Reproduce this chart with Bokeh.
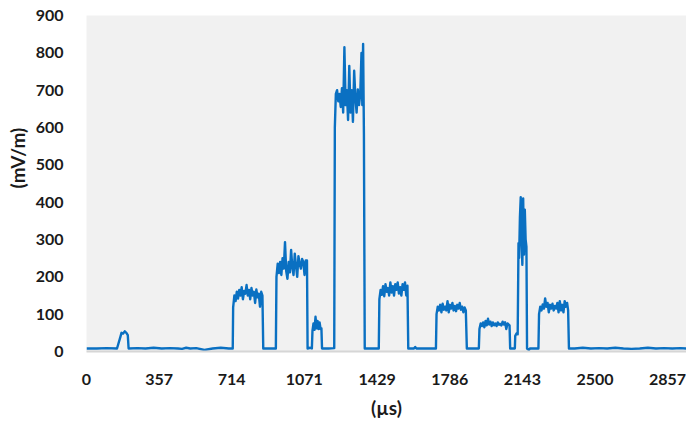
from bokeh.plotting import figure
from bokeh.models import Range1d, FixedTicker
from bokeh.embed import file_html
from bokeh.resources import INLINE

# Time axis (µs) and field strength (mV/m)
time_us = [
    0, 50, 100, 150, 167, 172, 180, 188, 196, 203, 207, 250, 290, 330, 370, 410, 450, 470, 490, 510, 540, 580, 620, 660, 700, 719,
    # pulse 1
    721, 727, 733, 739, 745, 751, 757, 763, 769, 775, 781, 787, 793, 799, 805, 811, 817, 823, 829, 835, 841, 847, 853, 859, 865, 869,
    900, 931,
    # pulse 2
    934, 940, 946, 952, 958, 964, 970, 976, 982, 988, 994, 1000, 1006, 1012, 1018, 1024, 1030, 1036, 1042, 1048, 1054, 1060, 1066, 1072, 1078, 1084, 1087,
    1100, 1108,
    # pulse 3
    1111, 1116, 1121, 1126, 1131, 1136, 1141, 1146, 1151, 1155, 1158,
    1190, 1218,
    # pulse 4 (strong)
    1221, 1226, 1232, 1238, 1244, 1250, 1256, 1262, 1268, 1274, 1280, 1286, 1292, 1298, 1304, 1310, 1316, 1322, 1328, 1334, 1340, 1346, 1352, 1356, 1360, 1364, 1368,
    1400, 1437,
    # pulse 5
    1440, 1446, 1452, 1458, 1464, 1470, 1476, 1482, 1488, 1494, 1500, 1506, 1512, 1518, 1524, 1530, 1536, 1542, 1548, 1554, 1560, 1566, 1572, 1578, 1582,
    1610, 1616, 1622, 1680, 1718,
    # pulse 6
    1721, 1727, 1733, 1739, 1745, 1751, 1757, 1763, 1769, 1775, 1781, 1787, 1793, 1799, 1805, 1811, 1817, 1823, 1829, 1835, 1841, 1847, 1853, 1859, 1865, 1870,
    1900, 1929,
    # pulse 7
    1932, 1938, 1944, 1950, 1956, 1962, 1968, 1974, 1980, 1986, 1992, 1998, 2004, 2010, 2016, 2022, 2028, 2034, 2040, 2046, 2052, 2058, 2064, 2070, 2076, 2080, 2083,
    2095, 2106,
    # step + spike
    2108, 2114, 2120, 2124, 2127, 2131, 2135, 2139, 2143, 2147, 2151, 2155, 2159, 2163, 2166,
    2175, 2180, 2190, 2222,
    # pulse 9
    2225, 2231, 2237, 2243, 2249, 2255, 2261, 2267, 2273, 2279, 2285, 2291, 2297, 2303, 2309, 2315, 2321, 2327, 2333, 2339, 2345, 2351, 2357, 2363, 2368, 2372,
    2400, 2440, 2480, 2520, 2560, 2600, 2640, 2680, 2720, 2760, 2800, 2840, 2880, 2920, 2950,
]

field_mvm = [
    8, 8, 9, 8, 40, 50, 48, 54, 50, 44, 8, 9, 8, 10, 8, 9, 8, 7, 10, 8, 9, 4, 8, 10, 8, 8,
    # pulse 1
    118, 150, 135, 160, 142, 165, 150, 172, 140, 162, 155, 178, 150, 165, 140, 170, 150, 160, 130, 166, 145, 155, 120, 160, 150, 8,
    8, 8,
    # pulse 2
    200, 235, 210, 240, 205, 250, 222, 293, 215, 195, 240, 212, 272, 225, 205, 262, 230, 200, 255, 235, 222, 248, 240, 205, 244, 244, 8,
    10, 8,
    # pulse 3
    55, 75, 58, 93, 62, 82, 60, 78, 60, 62, 8,
    8, 9,
    # pulse 4 (strong)
    600, 690, 700, 670, 690, 655, 705, 640, 815, 660, 700, 620, 765, 640, 700, 615, 752, 680, 640, 702, 660, 690, 800, 660, 824, 580, 8,
    8, 8,
    # pulse 5
    140, 165, 152, 175, 148, 180, 160, 170, 150, 185, 158, 175, 150, 180, 165, 185, 155, 172, 150, 180, 165, 185, 150, 176, 8,
    8, 12, 8, 8, 8,
    # pulse 6
    100, 120, 110, 125, 105, 128, 112, 120, 110, 135, 105, 125, 115, 130, 110, 122, 108, 125, 115, 130, 112, 120, 105, 118, 110, 8,
    8, 8,
    # pulse 7
    60, 75, 68, 78, 65, 82, 70, 88, 72, 80, 68, 78, 70, 75, 68, 78, 72, 74, 70, 80, 72, 78, 60, 75, 72, 70, 8,
    8, 8,
    # step + spike
    42, 48, 46, 290, 250, 360, 413, 300, 232, 410, 260, 380, 300, 280, 8,
    4, 8, 8, 8,
    # pulse 9
    100, 120, 110, 126, 115, 142, 120, 130, 105, 125, 115, 128, 110, 122, 115, 130, 105, 135, 110, 125, 105, 135, 120, 130, 110, 8,
    8, 10, 8, 9, 8, 10, 8, 7, 8, 10, 8, 9, 8, 9, 8,
]

x_ticks = [0, 357, 714, 1071, 1429, 1786, 2143, 2500, 2857]
y_ticks = [0, 100, 200, 300, 400, 500, 600, 700, 800, 900]

FONT = "Lato"

p = figure(width=686, height=421, output_backend="svg", toolbar_location=None,
           x_range=Range1d(0, 2950), y_range=Range1d(0, 900),
           min_border_left=86, min_border_right=0, min_border_top=15, min_border_bottom=68)
p.background_fill_color = "#f1f1f1"
p.border_fill_color = "white"
p.outline_line_color = None
p.grid.visible = False

p.line(time_us, field_mvm, line_color="#0a70c2", line_width=2.4, line_join="round")

p.xaxis.ticker = FixedTicker(ticks=x_ticks)
p.yaxis.ticker = FixedTicker(ticks=y_ticks)
for ax in (p.xaxis[0], p.yaxis[0]):
    ax.major_tick_line_color = None
    ax.minor_tick_line_color = None
    ax.major_label_text_font = FONT
    ax.major_label_text_font_style = "bold"
    ax.major_label_text_font_size = "16px"
    ax.major_label_text_color = "#1a1a1a"
    ax.axis_label_text_font = FONT
    ax.axis_label_text_font_style = "bold"
    ax.axis_label_text_font_size = "19px"
    ax.axis_label_text_color = "#1a1a1a"

p.xaxis.axis_line_color = "#d6d6d6"
p.xaxis.axis_line_width = 2
p.yaxis.axis_line_color = None
p.xaxis.major_label_standoff = 16
p.yaxis.major_label_standoff = 17
p.xaxis.axis_label = "(µs)"
p.xaxis.axis_label_standoff = 8
# leading no-break spaces lift the title a little above the centre, as in the reference
p.yaxis.axis_label = "\u00a0" * 11 + "(mV/m)"
p.yaxis.axis_label_standoff = 4

open("out.html", "w").write(file_html(p, INLINE))
